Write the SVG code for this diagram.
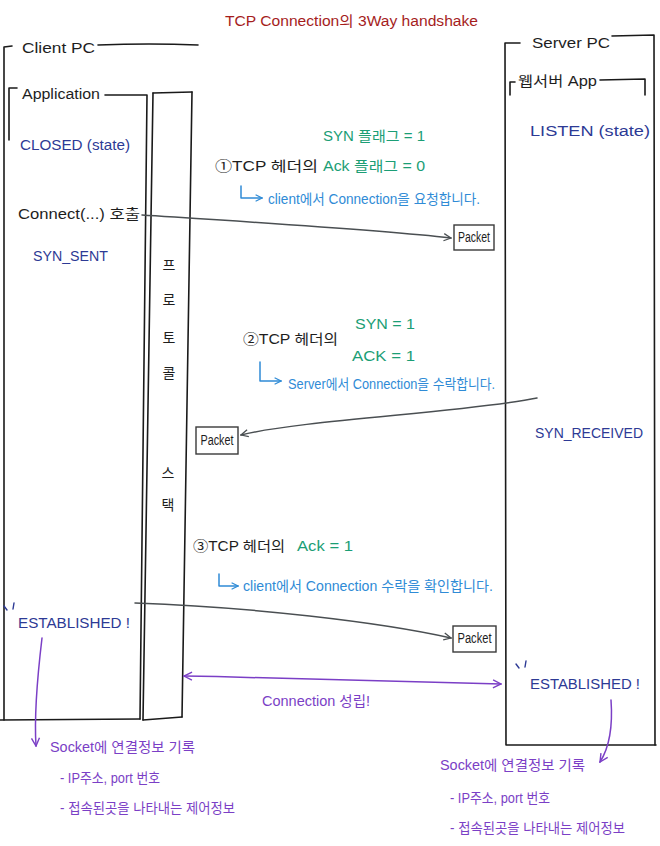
<svg xmlns="http://www.w3.org/2000/svg" width="660" height="846" viewBox="0 0 660 846">
<defs>
<style>
text{font-family:"Liberation Sans","Noto Sans CJK KR",sans-serif;font-size:14px}
.k{fill:#1e1e1e}
.n{fill:#2d3a95}
.g{fill:#1b9e75}
.b{fill:#2f8bd6}
.p{fill:#7b3fc6}
.r{fill:#a51d1d}
.ln{fill:none;stroke:#1a1a1a;stroke-width:1.6;stroke-linecap:round;stroke-linejoin:round}
.pk{fill:#fff;stroke:#3a3a3a;stroke-width:1.4}
.con{fill:none;stroke:#4a4f52;stroke-width:1.5;stroke-linecap:round}
.pur{fill:none;stroke:#7b3fc6;stroke-width:1.5;stroke-linecap:round}
.hk{fill:none;stroke:#2f8bd6;stroke-width:1.5;stroke-linecap:round;stroke-linejoin:round}
.q{fill:none;stroke:#2d3a95;stroke-width:1.4;stroke-linecap:round}
</style>
<marker id="ah" viewBox="0 0 10 10" refX="9" refY="5" markerWidth="9" markerHeight="9" orient="auto-start-reverse" markerUnits="userSpaceOnUse">
<path d="M1,1 L9,5 L1,9" fill="none" stroke="#4a4f52" stroke-width="1.4"/>
</marker>
<marker id="ahp" viewBox="0 0 10 10" refX="9" refY="5" markerWidth="10" markerHeight="10" orient="auto-start-reverse" markerUnits="userSpaceOnUse">
<path d="M1,1 L9,5 L1,9" fill="none" stroke="#7b3fc6" stroke-width="1.4"/>
</marker>
<marker id="ahb" viewBox="0 0 10 10" refX="9" refY="5" markerWidth="8" markerHeight="8" orient="auto" markerUnits="userSpaceOnUse">
<path d="M1,1 L9,5 L1,9" fill="none" stroke="#2f8bd6" stroke-width="1.4"/>
</marker>
</defs>
<rect width="660" height="846" fill="#fff"/>

<g id="title">
<text class="r" x="225" y="26" font-size="16" textLength="253" lengthAdjust="spacingAndGlyphs">TCP Connection의 3Way handshake</text>
</g>

<g id="client-pc">
<path class="ln" d="M4,720 L4,47 L12,46"/>
<path class="ln" d="M98,45 Q150,43 198,45"/>
<text class="k" x="22" y="53" font-size="15" textLength="73" lengthAdjust="spacingAndGlyphs">Client PC</text>
</g>

<g id="application">
<path class="ln" d="M9,140 L9,88 L17,88"/>
<path class="ln" d="M105,95 L147,95 L140,719"/>
<path class="ln" d="M0,720 L140,719"/>
<text class="k" x="22" y="99" textLength="78" lengthAdjust="spacingAndGlyphs">Application</text>
<text class="n" x="20" y="150" textLength="110" lengthAdjust="spacingAndGlyphs">CLOSED (state)</text>
<text class="k" x="18" y="219" textLength="122" lengthAdjust="spacingAndGlyphs">Connect(...) 호출</text>
<text class="n" x="33" y="261" textLength="75" lengthAdjust="spacingAndGlyphs">SYN_SENT</text>
<path class="q" d="M4,606 L7,610 M14,603 L13,609"/>
<text class="n" x="18" y="628" textLength="112" lengthAdjust="spacingAndGlyphs">ESTABLISHED !</text>
</g>

<g id="protocol-stack">
<path class="ln" d="M153,93 L192,92"/>
<path class="ln" d="M153,93 L143,720"/>
<path class="ln" d="M192,92 L182,717"/>
<path class="ln" d="M143,720 L182,717"/>
<g class="k" font-size="13" text-anchor="middle">
<text x="169" y="270">프</text>
<text x="169" y="305">로</text>
<text x="169" y="343">토</text>
<text x="169" y="378">콜</text>
<text x="168" y="478">스</text>
<text x="168" y="510">택</text>
</g>
</g>

<g id="server-pc">
<path class="ln" d="M520,43 L505,43 L506,745 L656,745"/>
<path class="ln" d="M612,36 L654,35 L655,745"/>
<text class="k" x="532" y="48" font-size="15" textLength="78" lengthAdjust="spacingAndGlyphs">Server PC</text>
</g>

<g id="webserver-app">
<path class="ln" d="M510,95 L510,82 L515,82"/>
<path class="ln" d="M600,80 L645,79 L645,95"/>
<text class="k" x="518" y="86" font-size="13" textLength="79" lengthAdjust="spacingAndGlyphs">웹서버 App</text>
<text class="n" x="530" y="136" textLength="120" lengthAdjust="spacingAndGlyphs">LISTEN (state)</text>
<text class="n" x="535" y="438" textLength="108" lengthAdjust="spacingAndGlyphs">SYN_RECEIVED</text>
<path class="q" d="M516,664 L519,668 M526,661 L525,667"/>
<text class="n" x="530" y="689" textLength="110" lengthAdjust="spacingAndGlyphs">ESTABLISHED !</text>
</g>

<g id="step1-note">
<text class="g" x="323" y="141" textLength="102" lengthAdjust="spacingAndGlyphs">SYN 플래그 = 1</text>
<text class="k" x="215" y="171" textLength="103" lengthAdjust="spacingAndGlyphs">①TCP 헤더의</text>
<text class="g" x="323" y="171" textLength="102" lengthAdjust="spacingAndGlyphs">Ack 플래그 = 0</text>
<path class="hk" d="M241,186 L241,198 L262,198" marker-end="url(#ahb)"/>
<text class="b" x="268" y="204" font-size="13" textLength="212" lengthAdjust="spacingAndGlyphs">client에서 Connection을 요청합니다.</text>
</g>

<g id="step2-note">
<text class="g" x="355" y="329" textLength="60" lengthAdjust="spacingAndGlyphs">SYN = 1</text>
<text class="k" x="243" y="344" textLength="95" lengthAdjust="spacingAndGlyphs">②TCP 헤더의</text>
<text class="g" x="352" y="361" textLength="63" lengthAdjust="spacingAndGlyphs">ACK = 1</text>
<path class="hk" d="M260,362 L260,381 L281,381" marker-end="url(#ahb)"/>
<text class="b" x="288" y="389" font-size="13" textLength="207" lengthAdjust="spacingAndGlyphs">Server에서 Connection을 수락합니다.</text>
</g>

<g id="step3-note">
<text class="k" x="193" y="551" textLength="92" lengthAdjust="spacingAndGlyphs">③TCP 헤더의</text>
<text class="g" x="297" y="551" textLength="56" lengthAdjust="spacingAndGlyphs">Ack = 1</text>
<path class="hk" d="M219,574 L219,586 L238,586" marker-end="url(#ahb)"/>
<text class="b" x="243" y="591" font-size="13" textLength="250" lengthAdjust="spacingAndGlyphs">client에서  Connection 수락을 확인합니다.</text>
</g>

<g id="packet1">
<rect class="pk" x="454" y="225" width="40" height="25"/>
<text class="k" x="474" y="241.5" font-size="11" text-anchor="middle" textLength="32" lengthAdjust="spacingAndGlyphs">Packet</text>
</g>
<g id="packet2">
<rect class="pk" x="196" y="427" width="42" height="27"/>
<text class="k" x="217" y="444.5" font-size="11" text-anchor="middle" textLength="33" lengthAdjust="spacingAndGlyphs">Packet</text>
</g>
<g id="packet3">
<rect class="pk" x="453" y="626" width="43" height="26"/>
<text class="k" x="474.5" y="643" font-size="11" text-anchor="middle" textLength="34" lengthAdjust="spacingAndGlyphs">Packet</text>
</g>

<g id="client-socket-note">
<text class="p" x="50" y="752" font-size="13" textLength="145" lengthAdjust="spacingAndGlyphs">Socket에 연결정보 기록</text>
<text class="p" x="60" y="783" font-size="13" textLength="100" lengthAdjust="spacingAndGlyphs">- IP주소, port 번호</text>
<text class="p" x="60" y="813" font-size="13" textLength="175" lengthAdjust="spacingAndGlyphs">- 접속된곳을 나타내는 제어정보</text>
</g>

<g id="server-socket-note">
<text class="p" x="440" y="770" font-size="13" textLength="145" lengthAdjust="spacingAndGlyphs">Socket에 연결정보 기록</text>
<text class="p" x="450" y="803" font-size="13" textLength="100" lengthAdjust="spacingAndGlyphs">- IP주소, port 번호</text>
<text class="p" x="450" y="833" font-size="13" textLength="175" lengthAdjust="spacingAndGlyphs">- 접속된곳을 나타내는 제어정보</text>
</g>

<g id="connection-label">
<text class="p" x="262" y="706" font-size="13" textLength="108" lengthAdjust="spacingAndGlyphs">Connection 성립!</text>
</g>

<g id="connectors">
<path class="con" d="M142,215 C250,222 380,230 451,238" marker-end="url(#ah)"/>
<path class="con" d="M537,398 C470,412 300,420 241,435" marker-end="url(#ah)"/>
<path class="con" d="M135,603 C250,607 380,622 451,638" marker-end="url(#ah)"/>
<path class="pur" d="M184,676 C300,678 420,682 501,684" marker-start="url(#ahp)" marker-end="url(#ahp)"/>
<path class="pur" d="M42,638 C37,680 34,715 36,746" marker-end="url(#ahp)"/>
<path class="pur" d="M611,700 C613,728 609,748 600,762" marker-end="url(#ahp)"/>
</g>
</svg>
